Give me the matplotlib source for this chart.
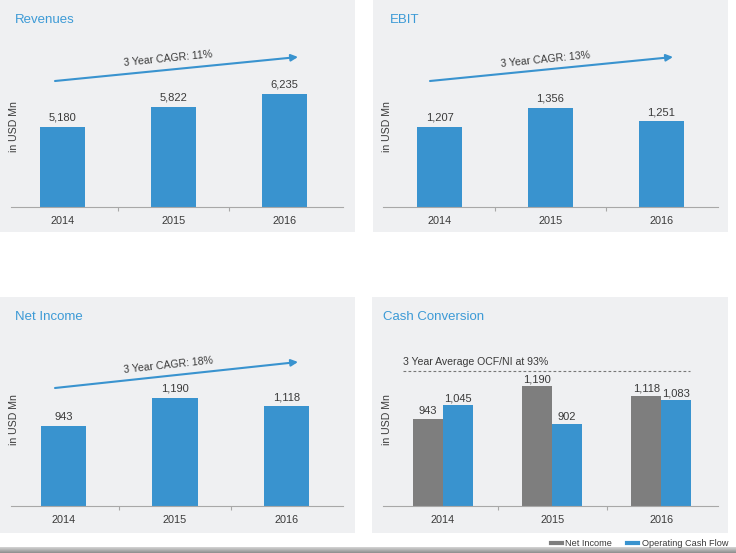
import matplotlib
matplotlib.use("Agg")
import matplotlib.pyplot as plt
import numpy as np
from matplotlib.patches import Rectangle, FancyArrowPatch
from matplotlib.lines import Line2D
from matplotlib.colors import LinearSegmentedColormap

plt.rcParams['font.family'] = ['Liberation Sans', 'DejaVu Sans']

# ---------------- data ----------------
years = ["2014", "2015", "2016"]
revenues = [5180, 5822, 6235]
ebit = [1207, 1356, 1251]
net_income = [943, 1190, 1118]
op_cash_flow = [1045, 902, 1083]

titles = ["Revenues", "EBIT", "Net Income", "Cash Conversion"]
cagr_labels = ["3 Year CAGR: 11%", "3 Year CAGR: 13%", "3 Year CAGR: 18%"]
avg_label = "3 Year Average OCF/NI at 93%"
ylabel = "in USD Mn"
legend_labels = ["Net Income", "Operating Cash Flow"]

# ---------------- style ----------------
W, H, DPI = 736, 553, 100
BLUE = "#3993cf"
TITLE_BLUE = "#3c9ad6"
GRAY = "#7e7e7e"
PANEL = "#eff0f2"
TXT = "#3a3a3a"

fig = plt.figure(figsize=(W / DPI, H / DPI), dpi=DPI)
fig.patch.set_facecolor("white")


def fx(x):
    return x / W


def fy(y):
    return 1 - y / H


def panel(x0, y0, x1, y1):
    fig.add_artist(Rectangle((fx(x0), fy(y1)), fx(x1 - x0), (y1 - y0) / H,
                             transform=fig.transFigure, facecolor=PANEL,
                             edgecolor="none", zorder=0))


def make_ax(left, right, top, bottom, xlim, ylim):
    ax = fig.add_axes([fx(left), fy(bottom), (right - left) / W, (bottom - top) / H])
    ax.set_facecolor("none")
    ax.set_xlim(*xlim)
    ax.set_ylim(*ylim)
    for s in ["top", "right", "left"]:
        ax.spines[s].set_visible(False)
    ax.spines["bottom"].set_color("#a8a8a8")
    ax.spines["bottom"].set_linewidth(0.8)
    ax.set_yticks([])
    ax.set_xticks(range(len(years)))
    ax.set_xticklabels(years, fontsize=7.8, color=TXT)
    ax.tick_params(axis="x", which="major", length=0, pad=6.5)
    ax.set_xticks([0.5, 1.5], minor=True)
    ax.tick_params(axis="x", which="minor", length=3, color="#a8a8a8", width=0.8)
    return ax


def title(x, y, s):
    fig.text(fx(x), fy(y), s, fontsize=9.5, color=TITLE_BLUE, va="center", ha="left")


def ylab(x, y):
    fig.text(fx(x), fy(y), ylabel, rotation=90, fontsize=7.6, color=TXT,
             va="center", ha="center")


def arrow(x0, y0, x1, y1, label, tx, ty):
    fig.add_artist(FancyArrowPatch((fx(x0), fy(y0)), (fx(x1), fy(y1)),
                                   transform=fig.transFigure, arrowstyle="-|>",
                                   mutation_scale=10, color=BLUE, lw=1.5,
                                   shrinkA=0, shrinkB=0))
    ang = np.degrees(np.arctan2(y0 - y1, x1 - x0))
    fig.text(fx(tx), fy(ty), label, rotation=ang, rotation_mode="anchor",
             fontsize=7.6, color=TXT, ha="center", va="center")


def value_labels(ax, xs, vals, off=3):
    for x, v in zip(xs, vals):
        ax.annotate(f"{v:,}", (x, v), xytext=(0, off), textcoords="offset points",
                    ha="center", va="bottom", fontsize=8, color=TXT)


# panels
panel(0, 0, 355, 232)
panel(373, 0, 728, 232)
panel(0, 297, 355, 533)
panel(372, 297, 728, 533)

x = np.arange(len(years))

# Revenues
ax1 = make_ax(11, 343, 40, 207, (-0.464, 2.527), (2620, 7959))
ax1.bar(x, revenues, width=0.405, color=BLUE, zorder=2)
value_labels(ax1, x, revenues)
title(15, 20, titles[0])
ylab(14, 127)
arrow(55, 81, 298, 57, cagr_labels[0], 168, 59)

# EBIT
ax2 = make_ax(383, 718, 40, 207, (-0.509, 2.509), (580, 1890))
ax2.bar(x, ebit, width=0.405, color=BLUE, zorder=2)
value_labels(ax2, x, ebit)
title(390, 20, titles[1])
ylab(387, 127)
arrow(430, 81, 673, 57, cagr_labels[1], 545, 60)

# Net Income
ax3 = make_ax(11, 343, 340, 506, (-0.471, 2.507), (235, 1704))
ax3.bar(x, net_income, width=0.404, color=BLUE, zorder=2)
value_labels(ax3, x, net_income)
title(15, 317, titles[2])
ylab(14, 420)
arrow(55, 388, 298, 362, cagr_labels[2], 168, 365)

# Cash Conversion
ax4 = make_ax(383, 718, 340, 506, (-0.55, 2.52), (270, 1547))
bw = 0.275
ax4.bar(x - bw / 2, net_income, width=bw, color=GRAY, zorder=2)
ax4.bar(x + bw / 2, op_cash_flow, width=bw, color=BLUE, zorder=2)
value_labels(ax4, x - bw / 2, net_income, off=1.5)
value_labels(ax4, x + bw / 2, op_cash_flow, off=1.5)
title(383, 317, titles[3])
ylab(387, 420)
fig.add_artist(Line2D([fx(403), fx(690)], [fy(371), fy(371)], transform=fig.transFigure,
                      color="#777777", lw=0.8, linestyle=(0, (2.5, 2))))
fig.text(fx(403), fy(362), avg_label, fontsize=7.6, color=TXT, ha="left", va="center")

handles = [Line2D([0], [0], color=GRAY, lw=3), Line2D([0], [0], color=BLUE, lw=3)]
fig.legend(handles, legend_labels, loc="center right", bbox_to_anchor=(fx(728), fy(544)),
           ncol=2, frameon=False, fontsize=6.6, handlelength=1.2, handletextpad=0.4,
           columnspacing=1.6, labelcolor=TXT, borderaxespad=0, borderpad=0)

# bottom strip
sax = fig.add_axes([0, 0, 1, 6 / H])
grad = np.linspace(0, 1, 20).reshape(-1, 1)
cm = LinearSegmentedColormap.from_list("g", ["#d4d4d4", "#8e8e8e"])
sax.imshow(grad, aspect="auto", cmap=cm, extent=[0, 1, 0, 1])
sax.axis("off")

fig.savefig("out.png", dpi=DPI)
